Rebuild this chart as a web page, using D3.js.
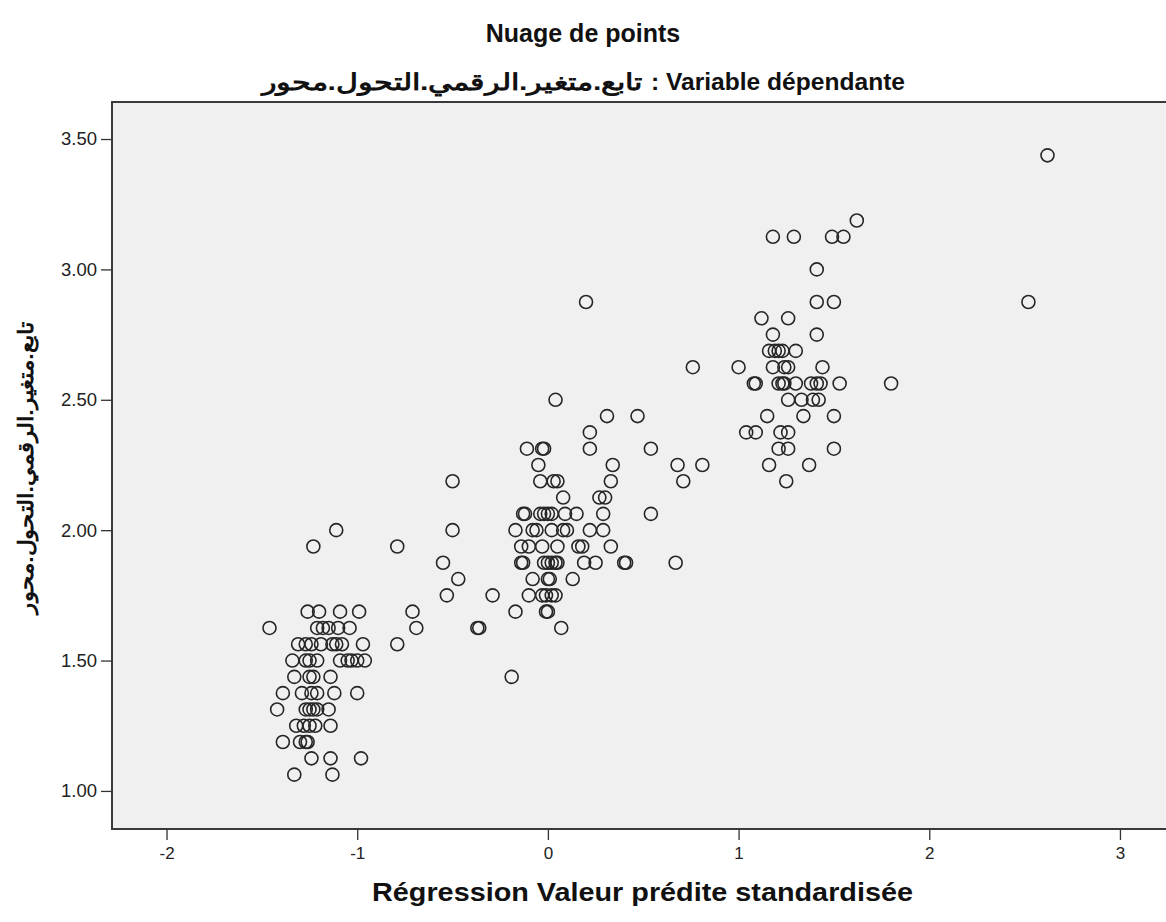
<!DOCTYPE html>
<html>
<head>
<meta charset="utf-8">
<script src="https://cdn.jsdelivr.net/npm/d3@7"></script>
<style>
  body { margin: 0; background: #ffffff; }
  text { font-family: "Liberation Sans", Arial, sans-serif; }
</style>
</head>
<body>
<svg id="chart" width="1166" height="922"></svg>
<script>
// Observed values of the dependent variable (one entry per distinct level)
const dependentLevels = [
  1.0625, 1.125, 1.1875, 1.25, 1.3125, 1.375, 1.4375, 1.5, 1.5625, 1.625,
  1.6875, 1.75, 1.8125, 1.875, 1.9375, 2.0, 2.0625, 2.125, 2.1875, 2.25,
  2.3125, 2.375, 2.4375, 2.5, 2.5625, 2.625, 2.6875, 2.75, 2.8125, 2.875,
  3.0, 3.125, 3.1875, 3.4375
];

// Standardized predicted values of the cases sharing each observed level
const predictedByLevel = [
  [-1.33, -1.13],
  [-1.24, -1.14, -0.98],
  [-1.39, -1.30, -1.27, -1.26],
  [-1.32, -1.28, -1.25, -1.22, -1.14],
  [-1.42, -1.27, -1.25, -1.23, -1.21, -1.15],
  [-1.39, -1.29, -1.24, -1.21, -1.12, -1.00],
  [-1.33, -1.25, -1.23, -1.14, -0.19],
  [-1.34, -1.27, -1.25, -1.21, -1.09, -1.05, -1.03, -1.00, -0.96],
  [-1.31, -1.27, -1.24, -1.19, -1.13, -1.11, -1.08, -0.97, -0.79],
  [-1.46, -1.21, -1.18, -1.15, -1.10, -1.04, -0.69, -0.37, -0.36, 0.07],
  [-1.26, -1.20, -1.09, -0.99, -0.71, -0.17, -0.01, 0.00],
  [-0.53, -0.29, -0.10, -0.03, -0.01, 0.02, 0.04],
  [-0.47, -0.08, 0.00, 0.01, 0.13],
  [-0.55, -0.14, -0.13, -0.02, 0.00, 0.02, 0.04, 0.05, 0.19, 0.25, 0.40, 0.41, 0.67],
  [-1.23, -0.79, -0.14, -0.10, -0.03, 0.05, 0.16, 0.18, 0.33],
  [-1.11, -0.50, -0.17, -0.08, -0.06, 0.02, 0.08, 0.10, 0.22, 0.29],
  [-0.13, -0.12, -0.04, -0.02, 0.00, 0.02, 0.09, 0.15, 0.29, 0.54],
  [0.08, 0.27, 0.30],
  [-0.50, -0.04, 0.03, 0.05, 0.33, 0.71, 1.25],
  [-0.05, 0.34, 0.68, 0.81, 1.16, 1.37],
  [-0.11, -0.03, -0.02, 0.22, 0.54, 1.21, 1.26, 1.50],
  [0.22, 1.04, 1.09, 1.22, 1.26],
  [0.31, 0.47, 1.15, 1.34, 1.50],
  [0.04, 1.26, 1.33, 1.39, 1.42],
  [1.08, 1.09, 1.21, 1.23, 1.24, 1.30, 1.38, 1.41, 1.43, 1.53, 1.80],
  [0.76, 1.00, 1.18, 1.24, 1.26, 1.44],
  [1.16, 1.19, 1.21, 1.23, 1.30],
  [1.18, 1.41],
  [1.12, 1.26],
  [0.20, 1.41, 1.50, 2.52],
  [1.41],
  [1.18, 1.29, 1.49, 1.55],
  [1.62],
  [2.62]
];

const xTicks = [-2, -1, 0, 1, 2, 3];
const yTicks = [1.00, 1.50, 2.00, 2.50, 3.00, 3.50];

// Dependent variable name, dot-separated words
const depVarWords = ["محور", "التحول", "الرقمي", "متغير", "تابع"];
const chartTitle = "Nuage de points";
const subtitlePrefix = "Variable dépendante";
const xAxisTitle = "Régression Valeur prédite standardisée";

// The name is drawn word by word from left to right, dots kept between words
const depVarLabel = depVarWords.join("\u200E.\u200E") + "\u200E";

// Flatten into case records
const cases = [];
dependentLevels.forEach((lvl, i) => {
  predictedByLevel[i].forEach(p => cases.push({ predicted: p, observed: lvl }));
});

const svg = d3.select("#chart");
const plot = { left: 112, right: 1172, top: 102, bottom: 829 };

const x = d3.scaleLinear().domain([-2.286, 3.273]).range([plot.left, plot.right]);
const y = d3.scaleLinear().domain([0.854, 3.642]).range([plot.bottom, plot.top]);

// Plot area
svg.append("rect")
  .attr("x", plot.left).attr("y", plot.top)
  .attr("width", plot.right - plot.left).attr("height", plot.bottom - plot.top)
  .attr("fill", "#f0f0f0")
  .attr("stroke", "#3a3a3a")
  .attr("stroke-width", 2);

// Axes
const tickFont = "'Liberation Sans', Arial, sans-serif";
const yAxis = svg.append("g")
  .attr("transform", `translate(${plot.left},0)`)
  .call(d3.axisLeft(y).tickValues(yTicks).tickFormat(d3.format(".2f")).tickSize(11).tickPadding(4));
yAxis.select(".domain").remove();
yAxis.selectAll(".tick line").attr("stroke", "#333").attr("stroke-width", 1.3);
yAxis.selectAll(".tick text")
  .attr("fill", "#222").style("font-size", "18.5px").style("font-family", tickFont);

const xAxis = svg.append("g")
  .attr("transform", `translate(0,${plot.bottom})`)
  .call(d3.axisBottom(x).tickValues(xTicks).tickFormat(d => String(d)).tickSize(11).tickPadding(7));
xAxis.select(".domain").remove();
xAxis.selectAll(".tick line").attr("stroke", "#333").attr("stroke-width", 1.3);
xAxis.selectAll(".tick text")
  .attr("fill", "#222").style("font-size", "17px").style("font-family", tickFont);

// Points
svg.append("g")
  .selectAll("circle")
  .data(cases)
  .join("circle")
  .attr("cx", d => x(d.predicted))
  .attr("cy", d => y(d.observed))
  .attr("r", 6.5)
  .attr("fill", "none")
  .attr("stroke", "#262626")
  .attr("stroke-width", 1.6);

// Title
svg.append("text")
  .attr("x", 583).attr("y", 42)
  .attr("text-anchor", "middle")
  .style("font-size", "25px").style("font-weight", "bold")
  .attr("fill", "#111")
  .text(chartTitle);

// Subtitle: variable name on the left of the label
svg.append("text")
  .attr("x", 262).attr("y", 90)
  .attr("direction", "ltr")
  .attr("textLength", 380).attr("lengthAdjust", "spacingAndGlyphs")
  .style("font-size", "23px").style("font-weight", "bold")
  .attr("fill", "#111")
  .text(depVarLabel);

svg.append("text")
  .attr("x", 905).attr("y", 90)
  .attr("text-anchor", "end")
  .attr("textLength", 254).attr("lengthAdjust", "spacingAndGlyphs")
  .style("font-size", "24px").style("font-weight", "bold")
  .attr("fill", "#111")
  .text(": " + subtitlePrefix);

// X axis title
svg.append("text")
  .attr("x", 642.5).attr("y", 901)
  .attr("text-anchor", "middle")
  .attr("textLength", 541).attr("lengthAdjust", "spacingAndGlyphs")
  .style("font-size", "26px").style("font-weight", "bold")
  .attr("fill", "#111")
  .text(xAxisTitle);

// Y axis title
svg.append("text")
  .attr("transform", `translate(33,${(plot.top + plot.bottom) / 2 + 2}) rotate(-90)`)
  .attr("text-anchor", "middle")
  .attr("direction", "ltr")
  .attr("textLength", 292).attr("lengthAdjust", "spacingAndGlyphs")
  .style("font-size", "21px").style("font-weight", "bold")
  .attr("fill", "#111")
  .text(depVarLabel);
</script>
</body>
</html>
